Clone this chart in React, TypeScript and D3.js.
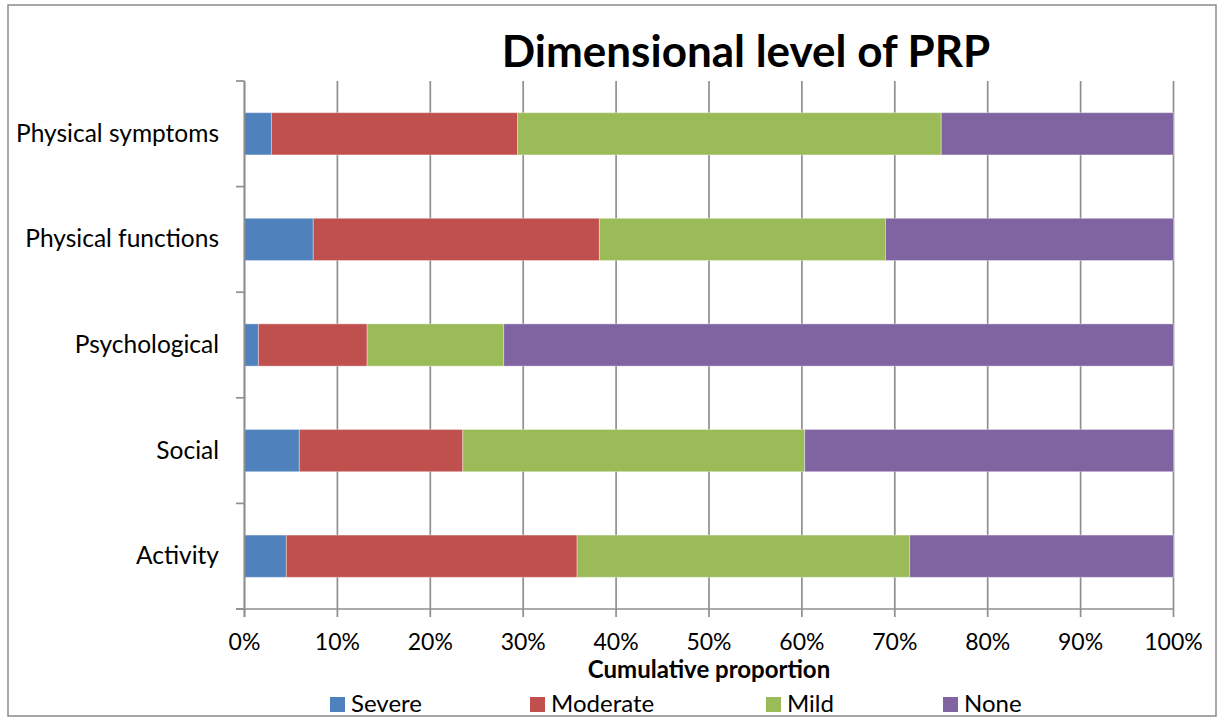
import React from "react";
import * as d3 from "d3";

const categories = ["Physical symptoms", "Physical functions", "Psychological", "Social", "Activity"];
const seriesNames = ["Severe", "Moderate", "Mild", "None"];
const severe = [2.9, 7.4, 1.5, 5.9, 4.5];
const moderate = [26.5, 30.8, 11.7, 17.6, 31.3];
const mild = [45.6, 30.8, 14.7, 36.8, 35.8];
const none = [25.0, 31.0, 72.1, 39.7, 28.4];
const xTicks = [0, 10, 20, 30, 40, 50, 60, 70, 80, 90, 100];
const colors = ["#4F81BD", "#C0504D", "#9BBB59", "#8064A2"];

const W = 1218;
const H = 717;
const FONT = "Lato, 'Open Sans', sans-serif";

export default function App() {
  const rows = categories.map((c, i) => ({
    cat: c,
    Severe: severe[i],
    Moderate: moderate[i],
    Mild: mild[i],
    None: none[i],
  }));
  const stacked = d3.stack<any>().keys(seriesNames)(rows);

  const x = d3.scaleLinear().domain([0, 100]).range([244.5, 1173.5]);
  const y = d3
    .scaleBand<string>()
    .domain(categories)
    .range([81, 609])
    .paddingInner(0.6)
    .paddingOuter(0.3);
  const step = y.step();
  const [y0, y1] = y.range();
  const catTicks = d3.range(categories.length + 1).map((i) => y0 + i * step);

  const gridColor = "#8f8f8f";
  const legendX = [330, 530, 766, 943];

  return (
    <svg
      width={W}
      height={H}
      style={{ position: "absolute", left: 0, top: 0, background: "#fff" }}
      fontFamily={FONT}
    >
      <rect x={8} y={5} width={1208} height={711} fill="#fff" stroke="#8a8a8a" strokeWidth={1.5} />
      <text x={746} y={67} textAnchor="middle" fontSize={44} fontWeight="bold" fill="#000">
        Dimensional level of PRP
      </text>

      {/* gridlines */}
      {xTicks.map((t) => (
        <line key={"g" + t} x1={x(t)} x2={x(t)} y1={y0} y2={y1 + 8} stroke={gridColor} strokeWidth={1.7} />
      ))}

      {/* bars */}
      {stacked.map((s, si) => (
        <g key={s.key} fill={colors[si]}>
          {s.map((d, i) => (
            <rect
              key={i}
              x={x(d[0])}
              y={y(categories[i])}
              width={x(d[1]) - x(d[0])}
              height={y.bandwidth()}
              stroke="rgba(255,255,255,0.35)"
              strokeWidth={1}
            />
          ))}
        </g>
      ))}

      {/* axes */}
      <line x1={x(0)} x2={x(0)} y1={y0} y2={y1 + 8} stroke={gridColor} strokeWidth={1.7} />
      <line x1={236} x2={x(100)} y1={y1} y2={y1} stroke={gridColor} strokeWidth={1.7} />
      {catTicks.map((t, i) => (
        <line key={"ct" + i} x1={236} x2={x(0)} y1={t} y2={t} stroke={gridColor} strokeWidth={1.7} />
      ))}

      {/* category labels */}
      {categories.map((c) => (
        <text key={c} x={219} y={(y(c) as number) + y.bandwidth() / 2 + 8} textAnchor="end" fontSize={24.5} fill="#000">
          {c}
        </text>
      ))}

      {/* x tick labels */}
      {xTicks.map((t) => (
        <text key={"xl" + t} x={x(t)} y={650} textAnchor="middle" fontSize={23} fill="#000">
          {t + "%"}
        </text>
      ))}
      <text x={(x(0) + x(100)) / 2} y={678} textAnchor="middle" fontSize={24} fontWeight="bold" fill="#000">
        Cumulative proportion
      </text>

      {/* legend */}
      {seriesNames.map((n, i) => (
        <g key={n}>
          <rect x={legendX[i]} y={697} width={15} height={15} fill={colors[i]} />
          <text x={legendX[i] + 21} y={712} fontSize={24} fill="#000">
            {n}
          </text>
        </g>
      ))}
    </svg>
  );
}
